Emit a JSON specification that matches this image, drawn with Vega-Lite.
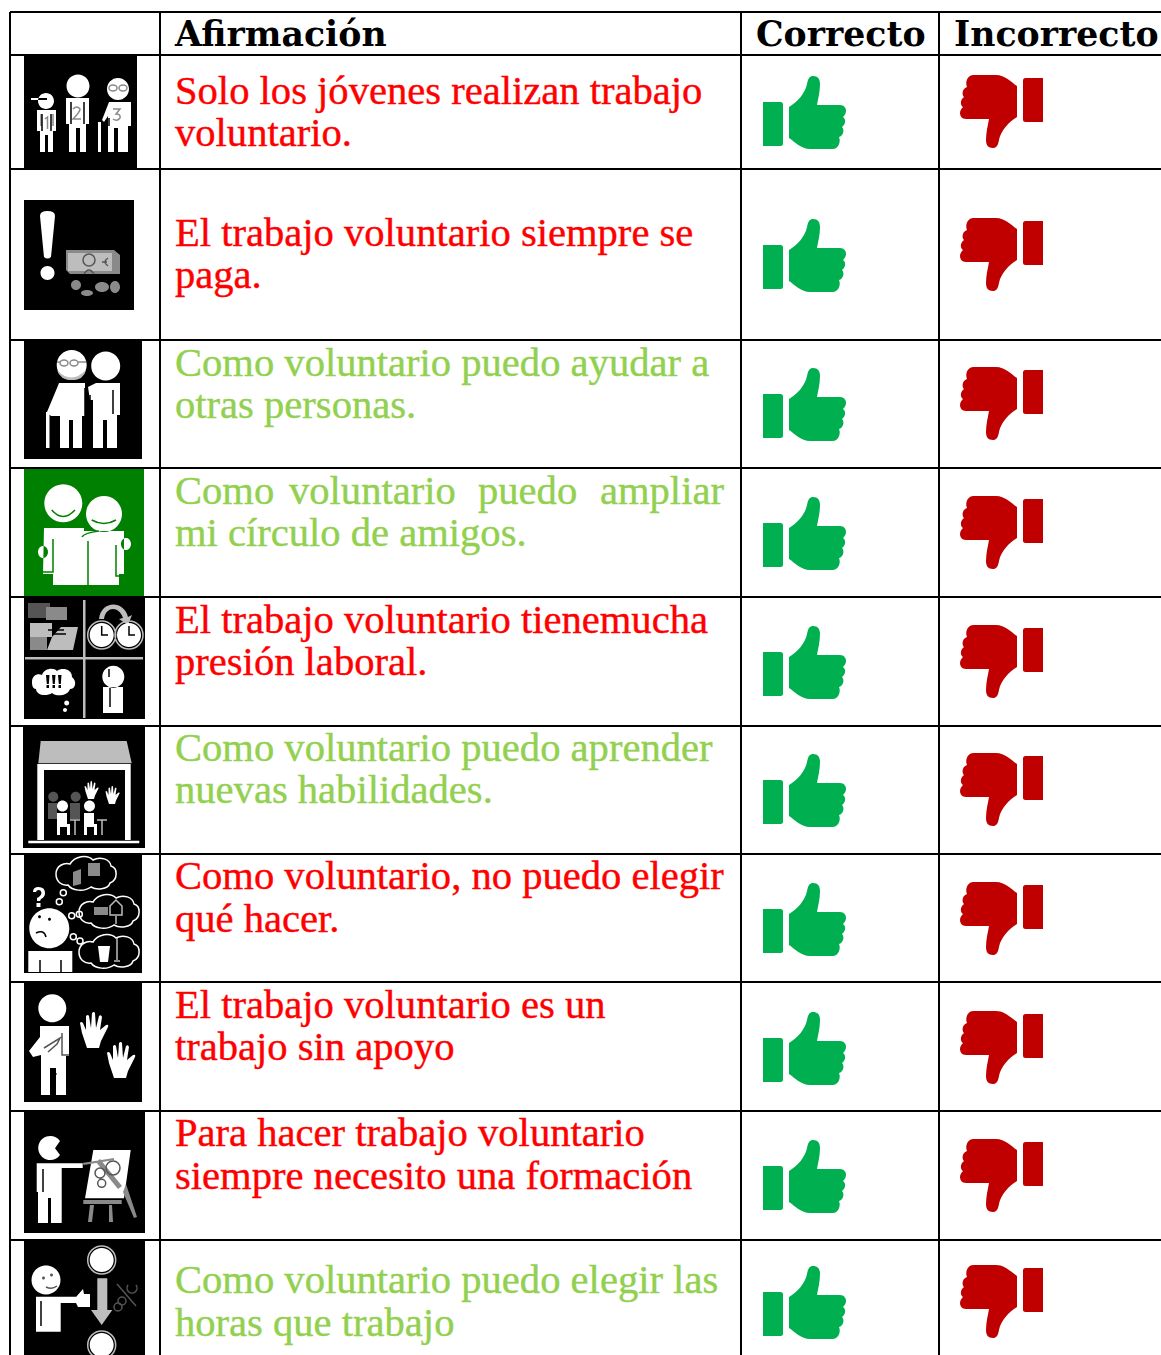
{
"$schema":"https://vega.github.io/schema/vega-lite/v6.json",
"width":1161,"height":1355,"padding":0,"autosize":{"type":"none"},
"background":"white",
"config":{"view":{"stroke":null}},
"datasets":{
"grid":[
{"x":10,"x2":1161,"y":12,"y2":12},{"x":10,"x2":1161,"y":55,"y2":55},{"x":10,"x2":1161,"y":169,"y2":169},{"x":10,"x2":1161,"y":340,"y2":340},{"x":10,"x2":1161,"y":468,"y2":468},{"x":10,"x2":1161,"y":597,"y2":597},{"x":10,"x2":1161,"y":726,"y2":726},{"x":10,"x2":1161,"y":854,"y2":854},{"x":10,"x2":1161,"y":982,"y2":982},{"x":10,"x2":1161,"y":1111,"y2":1111},{"x":10,"x2":1161,"y":1240,"y2":1240},
{"x":10,"x2":10,"y":12,"y2":1355},{"x":160,"x2":160,"y":12,"y2":1355},{"x":741,"x2":741,"y":12,"y2":1355},{"x":939,"x2":939,"y":12,"y2":1355}],
"cells":[
{"x":24,"x2":137,"y":56,"y2":169,"tone":"negro"},{"x":24,"x2":134,"y":200,"y2":310,"tone":"negro"},{"x":24,"x2":142,"y":340,"y2":459,"tone":"negro"},{"x":24,"x2":144,"y":469,"y2":597,"tone":"verde"},{"x":24,"x2":145,"y":597,"y2":719,"tone":"negro"},{"x":23,"x2":145,"y":727,"y2":848,"tone":"negro"},{"x":24,"x2":142,"y":854,"y2":973,"tone":"negro"},{"x":24,"x2":142,"y":983,"y2":1102,"tone":"negro"},{"x":24,"x2":145,"y":1112,"y2":1233,"tone":"negro"},{"x":24,"x2":145,"y":1241,"y2":1355,"tone":"negro"}],
"fills":[
{"part":"i1-blanco","tone":"blanco","x":24,"y":56},
{"part":"i2-blanco","tone":"blanco","x":24,"y":200},{"part":"i2-oscuro","tone":"medio","x":24,"y":200},{"part":"i2-gris","tone":"gris","x":24,"y":200},{"part":"i2-medio","tone":"medio","x":24,"y":200},
{"part":"i3-blanco","tone":"blanco","x":24,"y":340},{"part":"i3-gris","tone":"gris","x":24,"y":340},
{"part":"i4-blanco","tone":"blanco","x":24,"y":469},
{"part":"i5-gris","tone":"gris","x":24,"y":597},{"part":"i5-oscuro","tone":"oscuro","x":24,"y":597},{"part":"i5-medio","tone":"medio","x":24,"y":597},{"part":"i5-blanco","tone":"blanco","x":24,"y":597},{"part":"i5-negro","tone":"negro","x":24,"y":597},
{"part":"i6-gris","tone":"gris","x":23,"y":727},{"part":"i6-blanco","tone":"blanco","x":23,"y":727},{"part":"i6-oscuro","tone":"oscuro","x":23,"y":727},
{"part":"i7-blanco","tone":"blanco","x":24,"y":854},{"part":"i7-medio","tone":"medio","x":24,"y":854},{"part":"i7-negro","tone":"negro","x":24,"y":854},
{"part":"i8-blanco","tone":"blanco","x":24,"y":983},
{"part":"i9-blanco","tone":"blanco","x":24,"y":1112},{"part":"i9-medio","tone":"medio","x":24,"y":1112},
{"part":"i10-blanco","tone":"blanco","x":24,"y":1241},{"part":"i10-gris","tone":"gris","x":24,"y":1241},{"part":"i10-oscuro","tone":"oscuro","x":24,"y":1241}],
"strokes":[
{"part":"s1-gris","tone":"medio","x":24,"y":56},{"part":"s1-negro","tone":"negro","x":24,"y":56},
{"part":"s2-oscuro","tone":"oscuro","x":24,"y":200},
{"part":"s3-negro","tone":"negro","x":24,"y":340},{"part":"s3-medio","tone":"medio","x":24,"y":340},
{"part":"s4-verde","tone":"verde","x":24,"y":469},
{"part":"s5-negro","tone":"negro","x":24,"y":597},{"part":"s5-gris","tone":"gris","x":24,"y":597},
{"part":"s6-gris","tone":"gris","x":23,"y":727},
{"part":"s7-blanco","tone":"blanco","x":24,"y":854},{"part":"s7-gris","tone":"gris","x":24,"y":854},{"part":"s7-negro","tone":"negro","x":24,"y":854},
{"part":"s8-oscuro","tone":"oscuro","x":24,"y":983},
{"part":"s9-negro","tone":"negro","x":24,"y":1112},{"part":"s9-oscuro","tone":"oscuro","x":24,"y":1112},
{"part":"s10-gris","tone":"gris","x":24,"y":1241},{"part":"s10-oscuro","tone":"oscuro","x":24,"y":1241},{"part":"s10-negro","tone":"negro","x":24,"y":1241}],
"thumbs":[
{"verdict":"Correcto","x":804.5,"y":112.5},{"verdict":"Correcto","x":804.5,"y":255.5},{"verdict":"Correcto","x":804.5,"y":404.5},{"verdict":"Correcto","x":804.5,"y":533.5},{"verdict":"Correcto","x":804.5,"y":662.5},{"verdict":"Correcto","x":804.5,"y":790.5},{"verdict":"Correcto","x":804.5,"y":919.5},{"verdict":"Correcto","x":804.5,"y":1048.5},{"verdict":"Correcto","x":804.5,"y":1176.5},{"verdict":"Correcto","x":804.5,"y":1302.5},
{"verdict":"Incorrecto","x":1001.5,"y":111.5},{"verdict":"Incorrecto","x":1001.5,"y":254.5},{"verdict":"Incorrecto","x":1001.5,"y":403.5},{"verdict":"Incorrecto","x":1001.5,"y":532.5},{"verdict":"Incorrecto","x":1001.5,"y":661.5},{"verdict":"Incorrecto","x":1001.5,"y":789.5},{"verdict":"Incorrecto","x":1001.5,"y":918.5},{"verdict":"Incorrecto","x":1001.5,"y":1047.5},{"verdict":"Incorrecto","x":1001.5,"y":1175.5},{"verdict":"Incorrecto","x":1001.5,"y":1301.5}],
"headers":[{"t":"Afirmación","x":175,"y":46},{"t":"Correcto","x":756,"y":46},{"t":"Incorrecto","x":954,"y":46}],
"lines":[
{"t":"Solo los jóvenes realizan trabajo","x":175,"y":104,"kind":"falso"},{"t":"voluntario.","x":175,"y":146,"kind":"falso"},
{"t":"El trabajo voluntario siempre se","x":175,"y":246,"kind":"falso"},{"t":"paga.","x":175,"y":288,"kind":"falso"},
{"t":"Como voluntario puedo ayudar a","x":175,"y":376,"kind":"cierto"},{"t":"otras personas.","x":175,"y":418,"kind":"cierto"},
{"t":"Como","x":175,"y":504,"kind":"cierto"},{"t":"voluntario","x":289,"y":504,"kind":"cierto"},{"t":"puedo","x":478,"y":504,"kind":"cierto"},{"t":"ampliar","x":600,"y":504,"kind":"cierto"},{"t":"mi círculo de amigos.","x":175,"y":546,"kind":"cierto"},
{"t":"El trabajo voluntario tienemucha","x":175,"y":633,"kind":"falso"},{"t":"presión laboral.","x":175,"y":675,"kind":"falso"},
{"t":"Como voluntario puedo aprender","x":175,"y":761,"kind":"cierto"},{"t":"nuevas habilidades.","x":175,"y":803,"kind":"cierto"},
{"t":"Como voluntario, no puedo elegir","x":175,"y":889,"kind":"falso"},{"t":"qué hacer.","x":175,"y":932,"kind":"falso"},
{"t":"El trabajo voluntario es un","x":175,"y":1018,"kind":"falso"},{"t":"trabajo sin apoyo","x":175,"y":1060,"kind":"falso"},
{"t":"Para hacer trabajo voluntario","x":175,"y":1146,"kind":"falso"},{"t":"siempre necesito una formación","x":175,"y":1189,"kind":"falso"},
{"t":"Como voluntario puedo elegir las","x":175,"y":1293,"kind":"cierto"},{"t":"horas que trabajo","x":175,"y":1336,"kind":"cierto"}]
},
"encoding":{},
"resolve":{"scale":{"fill":"independent","stroke":"independent","shape":"independent"}},
"layer":[
{"data":{"name":"cells"},"mark":{"type":"rect"},
 "encoding":{
 "x":{"field":"x","type":"quantitative","scale":{"domain":[0,1161],"nice":false,"zero":false},"axis":null},
 "x2":{"field":"x2"},
 "y":{"field":"y","type":"quantitative","scale":{"domain":[0,1355],"reverse":true,"nice":false,"zero":false},"axis":null},
 "y2":{"field":"y2"},
 "fill":{"field":"tone","type":"nominal","legend":null,"scale":{"domain":["negro","verde"],"range":["#000000","#008000"]}}}},
{"data":{"name":"fills"},"mark":{"type":"point","filled":true,"opacity":1,"size":4,"strokeWidth":0},
 "encoding":{
 "x":{"field":"x","type":"quantitative","axis":null},
 "y":{"field":"y","type":"quantitative","axis":null},
 "fill":{"field":"tone","type":"nominal","legend":null,"scale":{"domain":["blanco","gris","medio","oscuro","negro"],"range":["#ffffff","#bdbdbd","#8a8a8a","#555555","#000000"]}},
 "shape":{"field":"part","type":"nominal","legend":null,"scale":{
 "domain":["i1-blanco","i2-blanco","i2-oscuro","i2-gris","i2-medio","i3-blanco","i3-gris","i4-blanco","i5-gris","i5-oscuro","i5-medio","i5-blanco","i5-negro","i6-gris","i6-blanco","i6-oscuro","i7-blanco","i7-medio","i7-negro","i8-blanco","i9-blanco","i9-medio","i10-blanco","i10-gris","i10-oscuro"],
 "range":[
 "M14 45a8 8 0 1 0 16 0a8 8 0 1 0 -16 0ZM7 42H23V44H7ZM13 54H32V75H29V96H24V79H21V96H16V75H13ZM42.5 30a11.5 11.5 0 1 0 23 0a11.5 11.5 0 1 0 -23 0ZM42 42H65V68H62V96H56V72H52V96H45V68H42ZM83 33a11 11 0 1 0 22 0a11 11 0 1 0 -22 0ZM85 46L78 64L80 66L84 60V96H90V72H94V96H104V70H107V46ZM74 66H77V96H74Z",
 "M16 16Q16 11 23.5 11Q31 11 31 16L27 57Q23.5 60 20 57ZM16.5 73a7 7 0 1 0 14 0a7 7 0 1 0 -14 0Z",
 "M42 50H90L96 55V74H46L42 70Z",
 "M44 53H88V71H44Z",
 "M47 85a5 5 0 1 0 10 0a5 5 0 1 0 -10 0ZM57 93a6 3 0 1 0 12 0a6 3 0 1 0 -12 0ZM71 87a7 5 0 1 0 14 0a7 5 0 1 0 -14 0ZM86 87a5 6 0 1 0 10 0a5 6 0 1 0 -10 0Z",
 "M32.7 25a15 15 0 1 0 30 0a15 15 0 1 0 -30 0ZM67.2 26a14.5 14.5 0 1 0 29 0a14.5 14.5 0 1 0 -29 0ZM35 43H61V76H58V108H49V80H45V108H36V76L27 76L23 72L33 48ZM64 47L72 43H96V75H93V108H83V80H79V108H69V60H66ZM22 72H25.5V108H22Z",
 "M33 30Q47 45 62 30Q60 40 47.7 40Q36 40 33 30Z",
 "M20.3 34.3a19 19 0 1 0 38 0a19 19 0 1 0 -38 0ZM62 45a18 18 0 1 0 36 0a18 18 0 1 0 -36 0ZM20 59H60L58 116H29V105H19ZM58 62H100V105H95V116H58ZM14 83a5 6 0 1 0 10 0a5 6 0 1 0 -10 0ZM97 75a5 6 0 1 0 10 0a5 6 0 1 0 -10 0Z",
 "M59 3H61.5V121H59ZM1 60H119V62.5H1ZM23 53L28 40L37 30H54L49 53ZM6 26H28V40H6ZM75 22C77 3 100 3 104 20L108 18L104 28L95 22L99 21C95 9 82 9 80 22Z",
 "M4 6H26V21H4Z",
 "M22 10H43V23H22ZM6 40H23V53H6Z",
 "M8 85C8 78 14 76 18 78C20 71 30 70 33 74C38 70 48 72 48 80C53 84 52 92 46 92C44 99 32 100 28 96C22 100 12 98 12 92C9 92 8 89 8 85ZM40.2 106a2.5 2.5 0 1 0 5 0a2.5 2.5 0 1 0 -5 0ZM39 113a2 2 0 1 0 4 0a2 2 0 1 0 -4 0ZM65.7 38a12 12 0 1 0 24 0a12 12 0 1 0 -24 0ZM93 38a12 12 0 1 0 24 0a12 12 0 1 0 -24 0ZM78.3 79.7a11 11 0 1 0 22 0a11 11 0 1 0 -22 0ZM79 90H99V116H79Z",
 "M22 78h3.5l-.7 9h-2zM22.5 88h2.5v3h-2.5zM28 78h3.5l-.7 9h-2zM28.5 88h2.5v3h-2.5zM34 78h3.5l-.7 9h-2zM34.5 88h2.5v3h-2.5z",
 "M17.7 14H103.7L108.7 36.3H15.3Z",
 "M14.3 37H107.7V113H102V43H21V113H14.3ZM5.3 113.7H116.3V116.3H5.3ZM65 72l-2.5 -7.5l-1 -5q.5 -1 1.5 0l1.5 3.5l0 -7q1 -1 1.5 0l1 6l.5 -7.5q1 -1 1.5 0l.5 7.5l1.5 -6q1 -1 1.5 .5l-1 6.5l3 -2.5q1.5 -.5 1 1l-3.5 7l-1 3.5zM86 77l-2.5 -7.5l-1 -5q.5 -1 1.5 0l1.5 3.5l0 -7q1 -1 1.5 0l1 6l.5 -7.5q1 -1 1.5 0l.5 7.5l1.5 -6q1 -1 1.5 .5l-1 6.5l3 -2.5q1.5 -.5 1 1l-3.5 7l-1 3.5zM34 79a5.5 5.5 0 1 0 11 0a5.5 5.5 0 1 0 -11 0ZM61 79a5.5 5.5 0 1 0 11 0a5.5 5.5 0 1 0 -11 0ZM34 86H44V97H47V108H44V100H37V108H34ZM61 86H71V97H74V108H71V100H64V108H61Z",
 "M25.3 69.7a5 5 0 1 0 10 0a5 5 0 1 0 -10 0ZM47.7 69.7a5 5 0 1 0 10 0a5 5 0 1 0 -10 0ZM25 76H34V92H25ZM47 76H57V92H47Z",
 "M5.3 74.3a20 20 0 1 0 40 0a20 20 0 1 0 -40 0ZM4.3 97H48.3V118H4.3ZM9 38Q9 33 14.5 33Q21 33 21 39Q21 43 17 45L16 47H13V44Q17 42 17.5 39Q17 36 14.5 36Q12.5 36 12 38ZM12.5 49h4v4h-4ZM74 92H86L84 108H76Z",
 "M64 9H76V22H64ZM49 18L57 15V30L49 32ZM70 53H84V61H70Z",
 "M14 62.7a1.5 1.5 0 1 0 3 0a1.5 1.5 0 1 0 -3 0ZM24 65.3a1.5 1.5 0 1 0 3 0a1.5 1.5 0 1 0 -3 0Z",
 "M14.3 25.3a14 14 0 1 0 28 0a14 14 0 1 0 -28 0ZM16 43H45V73H42V112H32V85H26V112H17V72L9 74L5 68L16 54ZM63 65l-5 -15l-2 -10q1 -2 3 0l3 7l0 -14q2 -2 3 0l2 12l1 -15q2 -2 3 0l1 15l3 -12q2 -2 3 1l-2 13l6 -5q3 -1 2 2l-7 14l-2 7zM90 95l-5 -15l-2 -10q1 -2 3 0l3 7l0 -14q2 -2 3 0l2 12l1 -15q2 -2 3 0l1 15l3 -12q2 -2 3 1l-2 13l6 -5q3 -1 2 2l-7 14l-2 7z",
 "M31 36.3L36 29A12 12 0 1 0 36 43ZM12.7 51.3H58.7V56H37.7V111H27V86H24V111H14V80H12.7ZM69.3 38H106.7L100 86.3H61Z",
 "M59.3 88H97.7V92H59.3ZM66 93H70L68 110H64ZM85 93H88L89 110H85ZM102 72L113 105L110 106L99 80ZM58 51L90 46L90 48L60 53ZM72 50L76 47L98 74L94 77Z",
 "M7.5 39a14.5 14.5 0 1 0 29 0a14.5 14.5 0 1 0 -29 0ZM12 55.7H52V62H36.7V90.7H12ZM52 56L59 48L60 53H66V66H54L52 62ZM65.7 19a12 12 0 1 0 24 0a12 12 0 1 0 -24 0ZM65.7 104a12 12 0 1 0 24 0a12 12 0 1 0 -24 0Z",
 "M73.3 37.3H83.3V69H88.3L77.7 84L67 69H73.3Z",
 "M26 34a1.5 1.5 0 1 0 3 0a1.5 1.5 0 1 0 -3 0ZM18 37a1.5 1.5 0 1 0 3 0a1.5 1.5 0 1 0 -3 0Z"
 ]}}}},
{"data":{"name":"strokes"},"mark":{"type":"point","filled":false,"opacity":1,"size":4,"strokeWidth":1.5,"fill":null},
 "encoding":{
 "x":{"field":"x","type":"quantitative","axis":null},
 "y":{"field":"y","type":"quantitative","axis":null},
 "stroke":{"field":"tone","type":"nominal","legend":null,"scale":{"domain":["blanco","gris","medio","oscuro","negro","verde"],"range":["#ffffff","#bdbdbd","#8a8a8a","#555555","#000000","#008000"]}},
 "shape":{"field":"part","type":"nominal","legend":null,"scale":{
 "domain":["s1-gris","s1-negro","s2-oscuro","s3-negro","s3-medio","s4-verde","s5-negro","s5-gris","s6-gris","s7-blanco","s7-gris","s7-negro","s8-oscuro","s9-negro","s9-oscuro","s10-gris","s10-oscuro","s10-negro"],
 "range":[
 "M85 32a4 3 0 1 0 8 0a4 3 0 1 0 -8 0M95 32a4 3 0 1 0 8 0a4 3 0 1 0 -8 0M21 63L23.5 61V73M17 58V70M29 58V70M49 53Q53 49 56 53Q56 56 49 63H57M89 53H96L92 58Q97 58 96 62Q93 66 89 63",
 "M47 46V68M60 46V68M18 58V75M27 58V75M85 62V70",
 "M59 60a6 6 0 1 0 12 0a6 6 0 1 0 -12 0M60 74Q65 66 70 74M84 58Q78 62 84 66M78 62H83",
 "M61 48V76M89 50V74M66 55V62",
 "M36 23a4 3 0 1 0 8 0a4 3 0 1 0 -8 0M46 23a4 3 0 1 0 8 0a4 3 0 1 0 -8 0M33 22H36M54 22H62",
 "M27.7 41Q39 54 51 41M67.7 51Q80 58 92 51M29 70V103H19M64 72V116M92 76V107H100M58 68Q60 64 75 62",
 "M77.7 29V38H84M105 29V38H111M85 72V80M24 33H40M30 37H42M86 91V110",
 "M63.7 38a14 14 0 1 0 28 0a14 14 0 1 0 -28 0M91 38a14 14 0 1 0 28 0a14 14 0 1 0 -28 0",
 "M47 93H57M52 93V108M74 93H84M79 93V108",
 "M32 20c0 -8 8 -12 14 -10c5 -8 17 -10 23 -4c7 -4 17 -1 18 6c7 2 7 14 -1 17c-2 7 -14 7 -19 4c-7 5 -19 4 -23 -2c-7 1 -12 -4 -12 -11zM55 58c0 -8 8 -12 14 -10c5 -8 17 -10 23 -4c7 -4 17 -1 18 6c7 2 7 14 -1 17c-2 7 -14 7 -19 4c-7 5 -19 4 -23 -2c-7 1 -12 -4 -12 -11zM55 98c0 -8 8 -12 14 -10c5 -8 17 -10 23 -4c7 -4 17 -1 18 6c7 2 7 14 -1 17c-2 7 -14 7 -19 4c-7 5 -19 4 -23 -2c-7 1 -12 -4 -12 -11zM36.3 38.7a3 3 0 1 0 6 0a3 3 0 1 0 -6 0M32.3 47.7a3 3 0 1 0 6 0a3 3 0 1 0 -6 0M44.7 61.7a3 3 0 1 0 6 0a3 3 0 1 0 -6 0M52.3 60.3a3 3 0 1 0 6 0a3 3 0 1 0 -6 0M46.3 82.7a3 3 0 1 0 6 0a3 3 0 1 0 -6 0M53 87a3 3 0 1 0 6 0a3 3 0 1 0 -6 0",
 "M93 84V106M90 107H96M86 52L92 46L98 52V61H86ZM92 62V70",
 "M12 79Q20 75 22 83M16 106V118M37 106V118",
 "M20 65L36 55L33 61L24 69M38 50V72H45M32 91H33",
 "M19 57V80",
 "M71 61a5 5 0 1 0 10 0a5 5 0 1 0 -10 0M82 56a7 7 0 1 0 14 0a7 7 0 1 0 -14 0M73.7 71.3a4 4 0 1 0 8 0a4 4 0 1 0 -8 0",
 "M63.7 19a14 14 0 1 0 28 0a14 14 0 1 0 -28 0M63.7 104a14 14 0 1 0 28 0a14 14 0 1 0 -28 0",
 "M93 43L112 65M94 60a4 4 0 1 0 8 0a4 4 0 1 0 -8 0M90 66a4 4 0 1 0 8 0a4 4 0 1 0 -8 0M22 46Q28 49 33 45M104 44a5 5 0 1 0 8 0",
 "M17 60V85"
 ]}}}},
{"data":{"name":"thumbs"},"transform":[{"filter":"datum.verdict==='Correcto'"}],
 "mark":{"type":"point","filled":true,"opacity":1,"size":4,"strokeWidth":0,"fill":"#00B050",
 "shape":"M-41.5 -10.5L-24 -10.5Q-21.5 -10.5 -21.5 -8L-21.5 31Q-21.5 33.5 -24 33.5L-41.5 33.5ZM-15.5 -5.5C-7.5 -10.5 .5 -18.5 2.5 -28.5C3.5 -34.5 5.5 -36.5 8.5 -36.5C13.5 -36.5 15.5 -33.5 15.5 -28.5C15.5 -20.5 13.5 -13.5 12.5 -7.5L35.5 -7.5C39.5 -7.5 41.5 -4.5 41.5 -1.5C41.5 1.5 39.5 3.5 38.5 4.5C41.5 6.5 41.5 11.5 37.5 14.5C40.5 17.5 38.5 23.5 34.5 24.5C36.5 28.5 34.5 36.5 28 36.5L5.5 36.5C-3.5 36.5 -9.5 29.5 -15.5 25.5Z"},
 "encoding":{"x":{"field":"x","type":"quantitative","axis":null},"y":{"field":"y","type":"quantitative","axis":null}}},
{"data":{"name":"thumbs"},"transform":[{"filter":"datum.verdict==='Incorrecto'"}],
 "mark":{"type":"point","filled":true,"opacity":1,"size":4,"strokeWidth":0,"fill":"#C00000","angle":180,
 "shape":"M-41.5 -10.5L-24 -10.5Q-21.5 -10.5 -21.5 -8L-21.5 31Q-21.5 33.5 -24 33.5L-41.5 33.5ZM-15.5 -5.5C-7.5 -10.5 .5 -18.5 2.5 -28.5C3.5 -34.5 5.5 -36.5 8.5 -36.5C13.5 -36.5 15.5 -33.5 15.5 -28.5C15.5 -20.5 13.5 -13.5 12.5 -7.5L35.5 -7.5C39.5 -7.5 41.5 -4.5 41.5 -1.5C41.5 1.5 39.5 3.5 38.5 4.5C41.5 6.5 41.5 11.5 37.5 14.5C40.5 17.5 38.5 23.5 34.5 24.5C36.5 28.5 34.5 36.5 28 36.5L5.5 36.5C-3.5 36.5 -9.5 29.5 -15.5 25.5Z"},
 "encoding":{"x":{"field":"x","type":"quantitative","axis":null},"y":{"field":"y","type":"quantitative","axis":null}}},
{"data":{"name":"grid"},"mark":{"type":"rule","color":"#000000","strokeWidth":2},
 "encoding":{"x":{"field":"x","type":"quantitative","axis":null},"x2":{"field":"x2"},"y":{"field":"y","type":"quantitative","axis":null},"y2":{"field":"y2"}}},
{"data":{"name":"headers"},"mark":{"type":"text","align":"left","baseline":"alphabetic","font":"DejaVu Serif","fontWeight":"bold","fontSize":34.7,"fill":"#000000"},
 "encoding":{"x":{"field":"x","type":"quantitative","axis":null},"y":{"field":"y","type":"quantitative","axis":null},"text":{"field":"t"}}},
{"data":{"name":"lines"},"mark":{"type":"text","align":"left","baseline":"alphabetic","font":"Liberation Serif","fontSize":40.6,"strokeWidth":0.4},
 "encoding":{"x":{"field":"x","type":"quantitative","axis":null},"y":{"field":"y","type":"quantitative","axis":null},"text":{"field":"t"},
 "fill":{"field":"kind","type":"nominal","legend":null,"scale":{"domain":["falso","cierto"],"range":["#FF0000","#92D050"]}},
 "stroke":{"field":"kind","type":"nominal","legend":null,"scale":{"domain":["falso","cierto"],"range":["#FF0000","#92D050"]}}}}
]
}
